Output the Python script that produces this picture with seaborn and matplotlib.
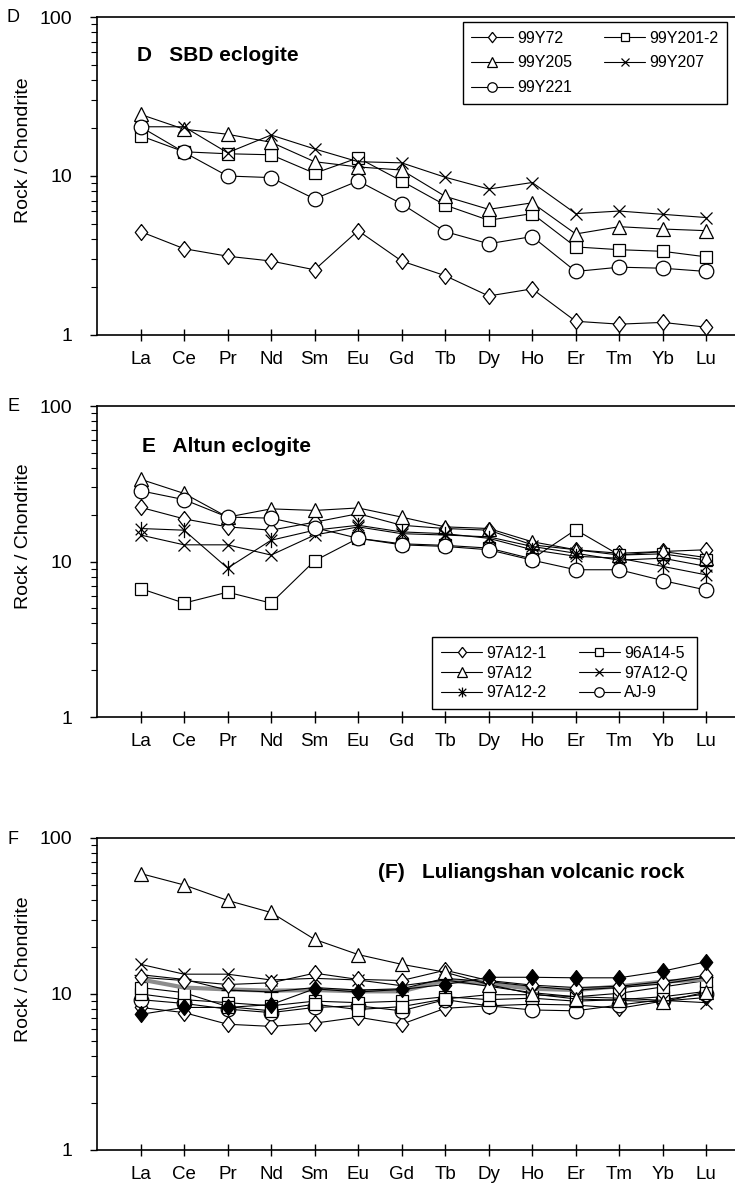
import numpy as np
import pandas as pd
import matplotlib
matplotlib.use("Agg")
import matplotlib.pyplot as plt
from matplotlib.path import Path
from matplotlib.ticker import FixedLocator, FixedFormatter, LogLocator, NullFormatter
import seaborn as sns

# Rare earth elements along the x axis
ree = ["La", "Ce", "Pr", "Nd", "Sm", "Eu", "Gd", "Tb", "Dy", "Ho", "Er", "Tm", "Yb", "Lu"]
ytick_vals = [1, 10, 100]
ytick_labels = ["1", "10", "100"]

# (D) SBD eclogite, chondrite-normalised
d_99Y72 = [4.47, 3.49, 3.13, 2.92, 2.57, 4.53, 2.92, 2.36, 1.76, 1.95, 1.22, 1.17, 1.20, 1.12]
d_99Y201_2 = [17.9, 14.2, 13.8, 13.6, 10.4, 13.0, 9.3, 6.56, 5.27, 5.80, 3.58, 3.44, 3.36, 3.10]
d_99Y205 = [24.4, 19.7, 18.3, 16.3, 12.3, 11.4, 10.9, 7.45, 6.17, 6.78, 4.32, 4.80, 4.64, 4.53]
d_99Y207 = [20.4, 20.4, 14.0, 18.1, 14.8, 12.3, 12.1, 9.82, 8.28, 9.10, 5.80, 6.02, 5.74, 5.48]
d_99Y221 = [20.4, 14.1, 10.0, 9.77, 7.18, 9.31, 6.68, 4.47, 3.75, 4.16, 2.51, 2.67, 2.63, 2.51]

# (E) Altun eclogite
e_97A12_1 = [22.3, 18.8, 16.7, 15.9, 17.9, 20.3, 17.1, 16.3, 15.9, 12.8, 11.9, 11.3, 11.6, 11.9]
e_96A14_5 = [6.7, 5.4, 6.35, 5.4, 10.1, 14.1, 13.0, 12.7, 12.2, 10.4, 16.0, 11.0, 11.2, 10.2]
e_97A12 = [33.8, 27.4, 19.3, 21.8, 21.3, 22.1, 19.3, 16.7, 16.3, 13.4, 11.9, 11.0, 11.6, 10.6]
e_97A12_Q = [14.8, 12.8, 12.8, 11.0, 14.8, 16.7, 15.1, 14.8, 14.4, 12.5, 11.3, 10.2, 10.5, 9.3]
e_97A12_2 = [16.3, 15.9, 9.07, 13.7, 15.9, 17.1, 15.5, 15.1, 14.1, 11.9, 10.8, 10.5, 9.3, 8.2]
e_AJ_9 = [28.5, 25.0, 19.3, 19.0, 16.5, 14.1, 12.8, 12.5, 11.9, 10.2, 8.85, 8.85, 7.54, 6.55]

# (F) Luliangshan volcanic rock
f_dia_low = [8.2, 7.6, 6.4, 6.2, 6.5, 7.1, 6.4, 8.1, 8.4, 8.6, 8.5, 8.1, 9.0, 9.5]
f_circle = [9.2, 8.7, 8.0, 7.6, 8.2, 8.4, 7.8, 9.2, 8.4, 7.9, 7.8, 8.5, 9.2, 10.0]
f_square_b = [10.0, 9.2, 8.8, 8.4, 9.0, 8.8, 9.0, 9.6, 9.2, 9.4, 9.0, 9.2, 9.6, 10.4]
f_square_a = [11.0, 10.2, 8.3, 7.8, 8.6, 7.95, 8.3, 9.3, 9.9, 9.9, 9.6, 10.1, 11.1, 12.2]
f_gray = [12.4, 11.0, 10.7, 10.5, 10.6, 10.4, 10.4, 12.2, 11.6, 10.8, 10.6, 11.2, 12.0, 12.4]
f_plus = [13.3, 12.4, 10.6, 10.3, 11.0, 10.6, 10.8, 12.6, 12.0, 11.2, 10.6, 11.0, 11.6, 12.8]
f_cross = [15.5, 13.4, 13.4, 12.3, 12.6, 12.3, 11.3, 12.3, 11.2, 10.2, 9.6, 9.4, 9.1, 8.8]
f_dia_up = [12.8, 12.2, 11.5, 11.8, 13.6, 12.4, 12.2, 14.2, 12.2, 11.4, 11.0, 11.2, 12.0, 13.2]
f_triangle = [59.2, 50.0, 39.8, 33.3, 22.4, 17.9, 15.5, 13.8, 11.5, 10.0, 9.3, 9.1, 8.9, 10.3]
f_dia_fill = [7.4, 8.2, 8.2, 8.55, 10.8, 10.3, 10.7, 11.5, 12.8, 12.8, 12.7, 12.7, 14.0, 16.1]

sns.set_style("ticks")
plt.rcParams["font.family"] = ["Liberation Sans", "DejaVu Sans"]
plt.rcParams["axes.edgecolor"] = "black"
plt.rcParams["xtick.color"] = "black"
plt.rcParams["ytick.color"] = "black"
plt.rcParams["text.color"] = "black"

W, H = 735, 1197
fig = plt.figure(figsize=(W / 100, H / 100), dpi=100)

pos = np.arange(1, len(ree) + 1)

# marker shapes
DIAMOND = [(0, 1), (0.78, 0), (0, -1), (-0.78, 0), (0, 1)]
ASTERISK = Path([(-0.8, -0.8), (0.8, 0.8), (-0.8, 0.8), (0.8, -0.8), (0, -1.05), (0, 1.05)],
                [Path.MOVETO, Path.LINETO, Path.MOVETO, Path.LINETO, Path.MOVETO, Path.LINETO])
STYLE = {
    "diamond": (DIAMOND, 11.5),
    "square": ("s", 9.0),
    "triangle": ("^", 10.5),
    "cross": ("x", 9.0),
    "circle": ("o", 10.5),
    "asterisk": (ASTERISK, 11.0),
    "plus": ("+", 9.5),
}


def make_axes(top_px, bottom_px, left_px=97, right_px=735):
    return fig.add_axes([left_px / W, 1 - bottom_px / H,
                         (right_px - left_px) / W, (bottom_px - top_px) / H])


def draw(ax, values, shape=None, filled=False, color="black", lw=0.8, zorder=3):
    df = pd.DataFrame({"element": pos, "ratio": values})
    kw = dict(color=color, linewidth=lw, zorder=zorder)
    if shape is not None:
        mk, ms = STYLE[shape]
        kw.update(marker=mk, markersize=ms,
                  markerfacecolor="black" if filled else "white",
                  markeredgecolor="black", markeredgewidth=0.9)
    sns.lineplot(data=df, x="element", y="ratio", ax=ax, legend=False, **kw)
    return ax.lines[-1]


def style_axes(ax, letter, title, title_xy, top_px, bottom_px):
    ax.set_yscale("log")
    ax.set_ylim(1, 100)
    ax.set_xlim(0, 14.66)
    ax.set_xlabel("")
    ax.set_ylabel("")
    ax.xaxis.set_major_locator(FixedLocator(pos))
    ax.set_xticklabels(ree)
    ax.yaxis.set_major_locator(FixedLocator(ytick_vals))
    ax.yaxis.set_major_formatter(FixedFormatter(ytick_labels))
    ax.yaxis.set_minor_locator(LogLocator(base=10, subs=np.arange(2, 10)))
    ax.yaxis.set_minor_formatter(NullFormatter())
    ax.tick_params(axis="x", which="major", direction="inout", length=9, width=1.0,
                   pad=7, labelsize=13.5, top=False)
    ax.tick_params(axis="y", which="major", direction="out", length=5, width=1.0,
                   pad=13, labelsize=14, right=False)
    ax.tick_params(axis="y", which="minor", direction="out", length=4, width=0.8, right=False)
    ax.spines["right"].set_visible(False)
    for s in ("top", "left", "bottom"):
        ax.spines[s].set_linewidth(1.2)
        ax.spines[s].set_color("black")
    ax.text(title_xy[0], title_xy[1], title, transform=ax.transAxes,
            fontsize=15, fontweight="bold", va="center", ha="left")
    mid = top_px + 0.42 * (bottom_px - top_px)
    fig.text(24 / W, 1 - mid / H, "Rock / Chondrite", rotation=90,
             ha="center", va="center", fontsize=14)
    fig.text(13 / W, 1 - (top_px + 1) / H, letter, ha="center", va="center", fontsize=13)


def add_legend(ax, handles, labels, anchor, loc, spacing):
    # two columns filled row by row
    order = list(range(0, len(handles), 2)) + list(range(1, len(handles), 2))
    leg = ax.legend([handles[i] for i in order], [labels[i] for i in order], ncol=2,
                    loc=loc, bbox_to_anchor=anchor, frameon=True, fancybox=False,
                    edgecolor="black", framealpha=1, fontsize=11.5, handlelength=2.6,
                    handletextpad=0.25, columnspacing=2.0, labelspacing=spacing,
                    borderpad=0.55, markerscale=0.65, borderaxespad=0)
    leg.get_frame().set_linewidth(1.0)


# ---- Panel D ----
top_d, bot_d = 17, 335
ax_d = make_axes(top_d, bot_d)
hd = [draw(ax_d, d_99Y72, "diamond"),
      draw(ax_d, d_99Y201_2, "square"),
      draw(ax_d, d_99Y205, "triangle"),
      draw(ax_d, d_99Y207, "cross"),
      draw(ax_d, d_99Y221, "circle")]
style_axes(ax_d, "D", "D   SBD eclogite", (0.063, 0.88), top_d, bot_d)
add_legend(ax_d, hd, ["99Y72", "99Y201-2", "99Y205", "99Y207", "99Y221"],
           (0.988, 0.985), "upper right", 0.62)

# ---- Panel E ----
top_e, bot_e = 406, 717
ax_e = make_axes(top_e, bot_e)
he = [draw(ax_e, e_97A12_1, "diamond"),
      draw(ax_e, e_96A14_5, "square"),
      draw(ax_e, e_97A12, "triangle"),
      draw(ax_e, e_97A12_Q, "cross"),
      draw(ax_e, e_97A12_2, "asterisk"),
      draw(ax_e, e_AJ_9, "circle")]
style_axes(ax_e, "E", "E   Altun eclogite", (0.07, 0.87), top_e, bot_e)
add_legend(ax_e, he, ["97A12-1", "96A14-5", "97A12", "97A12-Q", "97A12-2", "AJ-9"],
           (0.94, 0.025), "lower right", 0.3)

# ---- Panel F ----
top_f, bot_f = 838, 1150
ax_f = make_axes(top_f, bot_f)
draw(ax_f, f_dia_low, "diamond")
draw(ax_f, f_circle, "circle")
draw(ax_f, f_square_b, "square")
draw(ax_f, f_square_a, "square")
draw(ax_f, f_gray, None, color="#8c8c8c", lw=3.0)
draw(ax_f, f_plus, "plus")
draw(ax_f, f_cross, "cross")
draw(ax_f, f_dia_up, "diamond")
draw(ax_f, f_triangle, "triangle")
draw(ax_f, f_dia_fill, "diamond", filled=True)
style_axes(ax_f, "F", "(F)   Luliangshan volcanic rock", (0.44, 0.89), top_f, bot_f)

fig.savefig("out.png", dpi=100)
